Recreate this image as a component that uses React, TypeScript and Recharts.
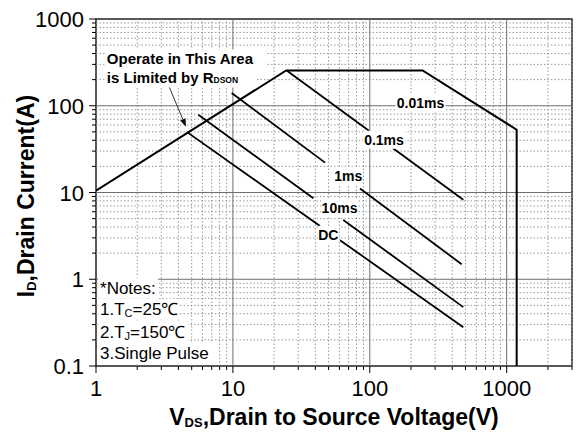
import React from 'react';
import { LineChart, Line, XAxis, YAxis, ReferenceLine, ReferenceArea, ReferenceDot } from 'recharts';

const FONT = "'Liberation Sans', Arial, sans-serif";

// axis ticks
const xMajor = [1, 10, 100, 1000];
const xMinor = [2, 3, 4, 5, 6, 7, 8, 9, 20, 30, 40, 50, 60, 70, 80, 90, 200, 300, 400, 500, 600, 700, 800, 900, 2000, 3000];
const yMajor = [0.1, 1, 10, 100, 1000];
const yMinor = [0.2, 0.3, 0.4, 0.5, 0.6, 0.7, 0.8, 0.9, 2, 3, 4, 5, 6, 7, 8, 9, 20, 30, 40, 50, 60, 70, 80, 90, 200, 300, 400, 500, 600, 700, 800, 900];

// SOA boundary: Rds(on) limit, current limit, 0.01ms power limit, Vds max
const envelopeV = [1, 24.5, 243, 1183, 1183];
const envelopeI = [10.5, 255, 255, 52.9, 0.1];

// pulse lines (null = gap left for the label)
const ms01V = [24.7, 98.6, 120, 147, 482];
const ms01I = [255, 51.5, null, 32.5, 8.24];
const ms1V = [9.8, 47.1, 63, 84.8, 469];
const ms1I = [140, 22.1, null, 11.1, 1.49];
const ms10V = [5.59, 38.7, 50, 64, 482];
const ms10I = [78.7, 8.57, null, 4.82, 0.477];
const dcV = [4.6, 43.3, 51, 60.6, 482];
const dcI = [50, 4.11, null, 2.82, 0.28];

const toPoints = (v: number[], i: (number | null)[]) => v.map((x, k) => ({ v: x, i: i[k] }));

const XTick = (props: any) => {
  const { x, y, payload } = props;
  const major = xMajor.includes(payload.value);
  return (
    <g>
      <line x1={x} x2={x} y1={y} y2={y + (major ? 7 : 4)} stroke="#000" strokeWidth={1} />
      {major && (
        <text x={x} y={y + 30} textAnchor="middle" fontSize={22} fontFamily={FONT} fill="#000">
          {payload.value}
        </text>
      )}
    </g>
  );
};

const YTick = (props: any) => {
  const { x, y, payload } = props;
  const major = yMajor.includes(payload.value);
  return (
    <g>
      <line x1={x - (major ? 7 : 4)} x2={x} y1={y} y2={y} stroke="#000" strokeWidth={1} />
      {major && (
        <text x={x - 12} y={y + 8} textAnchor="end" fontSize={22} fontFamily={FONT} fill="#000">
          {payload.value}
        </text>
      )}
    </g>
  );
};

// text with white box behind it, placed at a data point
const boxText = (content: React.ReactNode, w: number, h: number, opts: any = {}) => (p: any) => {
  const { cx, cy } = p;
  const anchor = opts.anchor || 'middle';
  const left = anchor === 'start' ? cx - 2 : cx - w / 2;
  return (
    <g>
      <rect x={left} y={cy - h / 2} width={w} height={h} fill="#fff" />
      <text
        x={cx}
        y={cy + (opts.base ?? 5)}
        textAnchor={anchor}
        fontSize={opts.size ?? 14}
        fontWeight={opts.weight ?? 'bold'}
        fontFamily={FONT}
        fill="#000"
      >
        {content}
      </text>
    </g>
  );
};

const ArrowShape = (p: any) => {
  const { x1, y1, x2, y2 } = p;
  const dx = x2 - x1;
  const dy = y2 - y1;
  const len = Math.sqrt(dx * dx + dy * dy);
  const ux = dx / len;
  const uy = dy / len;
  const hl = 8;
  const hw = 3;
  const bx = x2 - ux * hl;
  const by = y2 - uy * hl;
  return (
    <g>
      <line x1={x1} y1={y1} x2={bx} y2={by} stroke="#333" strokeWidth={1} />
      <polygon
        points={`${x2},${y2} ${bx - uy * hw},${by + ux * hw} ${bx + uy * hw},${by - ux * hw}`}
        fill="#111"
      />
    </g>
  );
};

const sub = (s: string, size = 11) => (
  <tspan fontSize={size} dy={2}>{s}</tspan>
);

export default function App() {
  const lineProps = {
    dataKey: 'i',
    stroke: '#000',
    strokeWidth: 1.8,
    dot: false,
    activeDot: false,
    connectNulls: false,
    isAnimationActive: false,
    type: 'linear' as const,
  };
  return (
    <div style={{ position: 'absolute', left: 0, top: 0, width: 576, height: 432, background: '#fff' }}>
      <LineChart width={576} height={432} margin={{ top: 19, right: 4, bottom: 0, left: 0 }}>
        <XAxis
          dataKey="v"
          type="number"
          scale="log"
          domain={[1, 3000]}
          allowDataOverflow
          ticks={[...xMajor, ...xMinor]}
          interval={0}
          height={66}
          tickSize={0}
          tickMargin={0}
          tickLine={false}
          axisLine={false}
          tick={<XTick />}
          label={{
            content: (lp: any) => {
              const vb = lp.viewBox;
              return (
                <text
                  x={vb.x + vb.width / 2}
                  y={vb.y + 59}
                  textAnchor="middle"
                  fontSize={23}
                  fontWeight="bold"
                  fontFamily={FONT}
                  fill="#000"
                >
                  V<tspan fontSize={13} dy={2}>DS</tspan>
                  <tspan dy={-2}>,Drain to Source Voltage(V)</tspan>
                </text>
              );
            },
          }}
        />
        <YAxis
          type="number"
          scale="log"
          domain={[0.1, 1000]}
          allowDataOverflow
          ticks={[...yMajor, ...yMinor]}
          interval={0}
          width={96}
          tickSize={0}
          tickMargin={0}
          tickLine={false}
          axisLine={false}
          tick={<YTick />}
          label={{
            content: () => (
              <text
                x={26}
                y={196 + 8}
                transform="rotate(-90, 26, 196)"
                textAnchor="middle"
                fontSize={23}
                fontWeight="bold"
                fontFamily={FONT}
                fill="#000"
              >
                I<tspan fontSize={13} dy={2}>D</tspan>
                <tspan dy={-2}>,Drain Current(A)</tspan>
              </text>
            ),
          }}
        />

        {xMinor.map((v) => (
          <ReferenceLine key={`xm${v}`} x={v} stroke="#999" strokeDasharray="1.5 2" strokeWidth={1} />
        ))}
        {yMinor.map((v) => (
          <ReferenceLine key={`ym${v}`} y={v} stroke="#999" strokeDasharray="1.5 2" strokeWidth={1} />
        ))}
        {xMajor.slice(1).map((v) => (
          <ReferenceLine key={`xM${v}`} x={v} stroke="#6e6e6e" strokeWidth={1} />
        ))}
        {yMajor.slice(1, -1).map((v) => (
          <ReferenceLine key={`yM${v}`} y={v} stroke="#6e6e6e" strokeWidth={1} />
        ))}

        <Line data={toPoints(envelopeV, envelopeI)} {...lineProps} strokeWidth={2} />
        <Line data={toPoints(ms01V, ms01I)} {...lineProps} />
        <Line data={toPoints(ms1V, ms1I)} {...lineProps} />
        <Line data={toPoints(ms10V, ms10I)} {...lineProps} />
        <Line data={toPoints(dcV, dcI)} {...lineProps} />

        <ReferenceDot x={234.6} y={109} r={0} shape={boxText('0.01ms', 50, 18)} />
        <ReferenceDot x={127} y={40.5} r={0} shape={boxText('0.1ms', 42, 18)} />
        <ReferenceDot x={69.7} y={15.6} r={0} shape={boxText('1ms', 28, 18)} />
        <ReferenceDot x={60.1} y={6.6} r={0} shape={boxText('10ms', 37, 18)} />
        <ReferenceDot x={49.8} y={3.25} r={0} shape={boxText('DC', 21, 18)} />

        <ReferenceDot
          x={1.2}
          y={346}
          r={0}
          shape={boxText('Operate in This Area', 162, 19, { anchor: 'start', size: 15, base: 5.5 })}
        />
        <ReferenceDot
          x={1.2}
          y={209}
          r={0}
          shape={boxText(
            <>
              is Limited by R<tspan fontSize={8.5}>DSON</tspan>
            </>,
            152,
            19,
            { anchor: 'start', size: 15, base: 5.5 }
          )}
        />
        <ReferenceLine
          segment={[
            { x: 3.37, y: 175 },
            { x: 4.54, y: 57.3 },
          ]}
          shape={ArrowShape}
        />

        <ReferenceDot x={1.07} y={0.789} r={0} shape={boxText('*Notes:', 60, 21, { anchor: 'start', size: 17, weight: 'normal', base: 6 })} />
        <ReferenceDot
          x={1.07}
          y={0.452}
          r={0}
          shape={boxText(
            <>
              1.T{sub('C')}<tspan dy={-2}>=25℃</tspan>
            </>,
            82,
            21,
            { anchor: 'start', size: 17, weight: 'normal', base: 6 }
          )}
        />
        <ReferenceDot
          x={1.07}
          y={0.249}
          r={0}
          shape={boxText(
            <>
              2.T{sub('J')}<tspan dy={-2}>=150℃</tspan>
            </>,
            90,
            21,
            { anchor: 'start', size: 17, weight: 'normal', base: 6 }
          )}
        />
        <ReferenceDot x={1.07} y={0.143} r={0} shape={boxText('3.Single Pulse', 116, 21, { anchor: 'start', size: 17, weight: 'normal', base: 6 })} />

        <ReferenceArea x1={1} x2={3000} y1={0.1} y2={1000} fill="none" stroke="#222" strokeWidth={1.5} />
      </LineChart>
    </div>
  );
}
